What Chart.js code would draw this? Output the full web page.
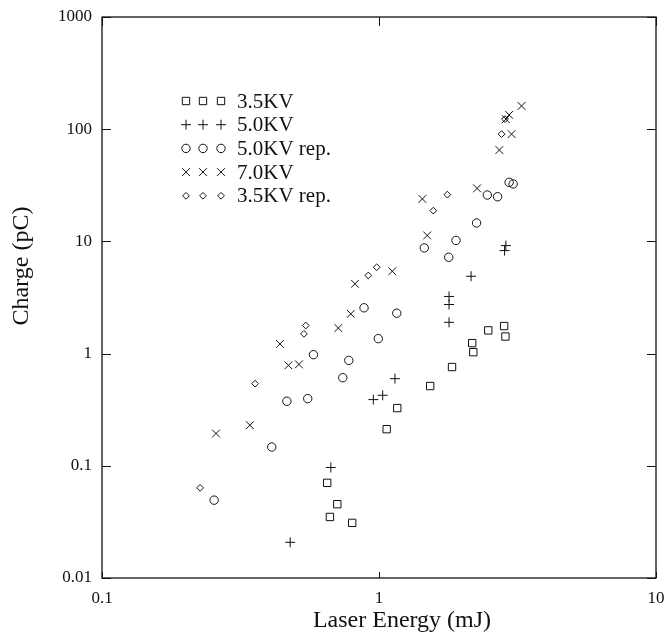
<!DOCTYPE html>
<html>
<head>
<meta charset="utf-8">
<script src="https://cdn.jsdelivr.net/npm/chart.js@4.4.0/dist/chart.umd.min.js"></script>
<style>
  html, body { margin: 0; padding: 0; background: #fff; }
  #wrap { width: 669px; height: 637px; }
</style>
</head>
<body>
<div id="wrap"><canvas id="chargeChart" width="669" height="637"></canvas></div>
<script>
// values (Laser Energy in mJ, Charge in pC)
var kv35X = [0.65, 0.707, 0.665, 0.80, 1.066, 1.164, 1.53, 1.835, 2.17, 2.19, 2.48, 2.83, 2.86];
var kv35Y = [0.0705, 0.0455, 0.035, 0.031, 0.212, 0.327, 0.514, 0.759, 1.24, 1.03, 1.61, 1.76, 1.42];

var kv50X = [0.478, 0.670, 0.954, 1.031, 1.142, 1.79, 1.79, 1.79, 2.15, 2.84, 2.87];
var kv50Y = [0.0208, 0.0966, 0.389, 0.425, 0.598, 1.90, 2.74, 3.23, 4.89, 8.28, 9.18];

var kv50repX = [0.254, 0.410, 0.465, 0.553, 0.580, 0.740, 0.778, 0.883, 0.994, 1.159, 1.457, 1.785, 1.897, 2.25, 2.46, 2.68, 2.95, 3.05];
var kv50repY = [0.0494, 0.147, 0.376, 0.397, 0.978, 0.610, 0.870, 2.56, 1.36, 2.29, 8.75, 7.22, 10.2, 14.6, 25.9, 25.0, 33.6, 32.5];

var kv70X = [0.258, 0.342, 0.439, 0.471, 0.514, 0.713, 0.791, 0.819, 1.117, 1.434, 1.493, 2.26, 2.72, 3.01, 2.87, 2.95, 3.27];
var kv70Y = [0.194, 0.230, 1.22, 0.786, 0.802, 1.69, 2.26, 4.19, 5.42, 23.9, 11.3, 29.7, 65.2, 90.4, 123, 134, 161];

var kv35repX = [0.226, 0.357, 0.536, 0.544, 0.915, 0.981, 1.57, 1.765, 2.77, 2.85];
var kv35repY = [0.0636, 0.540, 1.50, 1.78, 4.97, 5.88, 18.8, 26.1, 90.4, 123];

var seriesLabels = ['3.5KV', '5.0KV', '5.0KV rep.', '7.0KV', '3.5KV rep.'];
var xTickLabels = ['0.1', '1', '10'];
var yTickLabels = ['0.01', '0.1', '1', '10', '100', '1000'];

var xTitle = 'Laser Energy (mJ)';
var yTitle = 'Charge (pC)';

function toPoints(xs, ys) {
    return xs.map(function (x, i) { return { x: x, y: ys[i] }; });
}

var ink = '#111';
var serif = "'Liberation Serif', 'Times New Roman', serif";

function makeSet(label, xs, ys, style, radius) {
    return {
        label: label,
        data: toPoints(xs, ys),
        pointStyle: style,
        pointRadius: radius,
        pointHoverRadius: radius,
        pointBorderColor: ink,
        pointBackgroundColor: 'rgba(0,0,0,0)',
        pointBorderWidth: 1,
        showLine: false
    };
}

function decadeLabel(v, labels, minExp) {
    var e = Math.log10(v);
    if (Math.abs(e - Math.round(e)) > 1e-6) return '';
    return labels[Math.round(e) - minExp] || '';
}

// frame, inward ticks, legend and axis titles
var framePlugin = {
    id: 'frame',
    afterDraw: function (chart) {
        var ctx = chart.ctx;
        var a = chart.chartArea;
        var xs = chart.scales.x, ys = chart.scales.y;
        ctx.save();
        ctx.strokeStyle = ink;
        ctx.lineWidth = 1.3;
        ctx.strokeRect(a.left, a.top, a.right - a.left, a.bottom - a.top);

        ctx.lineWidth = 1;
        ctx.beginPath();
        yTickLabels.forEach(function (t, i) {
            var py = Math.round(ys.getPixelForValue(Math.pow(10, i - 2))) + 0.5;
            ctx.moveTo(a.left, py); ctx.lineTo(a.left + 9, py);
            ctx.moveTo(a.right, py); ctx.lineTo(a.right - 9, py);
        });
        xTickLabels.forEach(function (t, i) {
            var px = Math.round(xs.getPixelForValue(Math.pow(10, i - 1))) + 0.5;
            ctx.moveTo(px, a.top); ctx.lineTo(px, a.top + 9);
            ctx.moveTo(px, a.bottom); ctx.lineTo(px, a.bottom - 6);
        });
        ctx.stroke();

        // legend: three hollow markers then the label
        ctx.textBaseline = 'middle';
        ctx.textAlign = 'left';
        chart.data.datasets.forEach(function (ds, i) {
            var rowY = a.top + 84 + i * 23.7;
            ctx.fillStyle = 'rgba(0,0,0,0)';
            ctx.strokeStyle = ink;
            ctx.lineWidth = 1;
            [186, 203, 221].forEach(function (sx) {
                Chart.helpers.drawPoint(ctx, {
                    pointStyle: ds.pointStyle,
                    radius: ds.pointRadius,
                    borderWidth: 1
                }, sx, rowY);
            });
            ctx.fillStyle = ink;
            ctx.font = '21px ' + serif;
            ctx.fillText(ds.label, 237, rowY + 1);
        });

        ctx.fillStyle = ink;
        ctx.font = '24px ' + serif;
        ctx.textAlign = 'center';
        ctx.fillText(xTitle, 402, 621);
        ctx.translate(22, 266);
        ctx.rotate(-Math.PI / 2);
        ctx.fillText(yTitle, 0, 0);
        ctx.restore();
    }
};

Chart.defaults.font.family = serif;
Chart.defaults.color = ink;

var chargeChart = new Chart(document.getElementById('chargeChart').getContext('2d'), {
    type: 'scatter',
    data: {
        datasets: [
            makeSet(seriesLabels[0], kv35X, kv35Y, 'rect', 5.2),
            makeSet(seriesLabels[1], kv50X, kv50Y, 'cross', 5),
            makeSet(seriesLabels[2], kv50repX, kv50repY, 'circle', 4.2),
            makeSet(seriesLabels[3], kv70X, kv70Y, 'crossRot', 5.5),
            makeSet(seriesLabels[4], kv35repX, kv35repY, 'rectRot', 3.4)
        ]
    },
    options: {
        responsive: false,
        animation: false,
        events: [],
        layout: { padding: { left: 0, right: 13, top: 17, bottom: 0 } },
        plugins: {
            legend: { display: false },
            tooltip: { enabled: false }
        },
        scales: {
            x: {
                type: 'logarithmic',
                min: 0.1,
                max: 10,
                grid: { drawOnChartArea: false, drawTicks: false },
                border: { display: false },
                afterFit: function (scale) {
                    scale.height = 59;
                    scale.paddingLeft = 0;
                    scale.paddingRight = 0;
                },
                ticks: {
                    padding: 10,
                    maxRotation: 0,
                    autoSkip: false,
                    font: { size: 17 },
                    callback: function (v) { return decadeLabel(v, xTickLabels, -1); }
                }
            },
            y: {
                type: 'logarithmic',
                min: 0.01,
                max: 1000,
                grid: { drawOnChartArea: false, drawTicks: false },
                border: { display: false },
                afterFit: function (scale) {
                    scale.width = 102;
                    scale.paddingTop = 0;
                    scale.paddingBottom = 0;
                },
                ticks: {
                    padding: 10,
                    autoSkip: false,
                    font: { size: 17 },
                    callback: function (v) { return decadeLabel(v, yTickLabels, -2); }
                }
            }
        }
    },
    plugins: [framePlugin]
});
</script>
</body>
</html>
